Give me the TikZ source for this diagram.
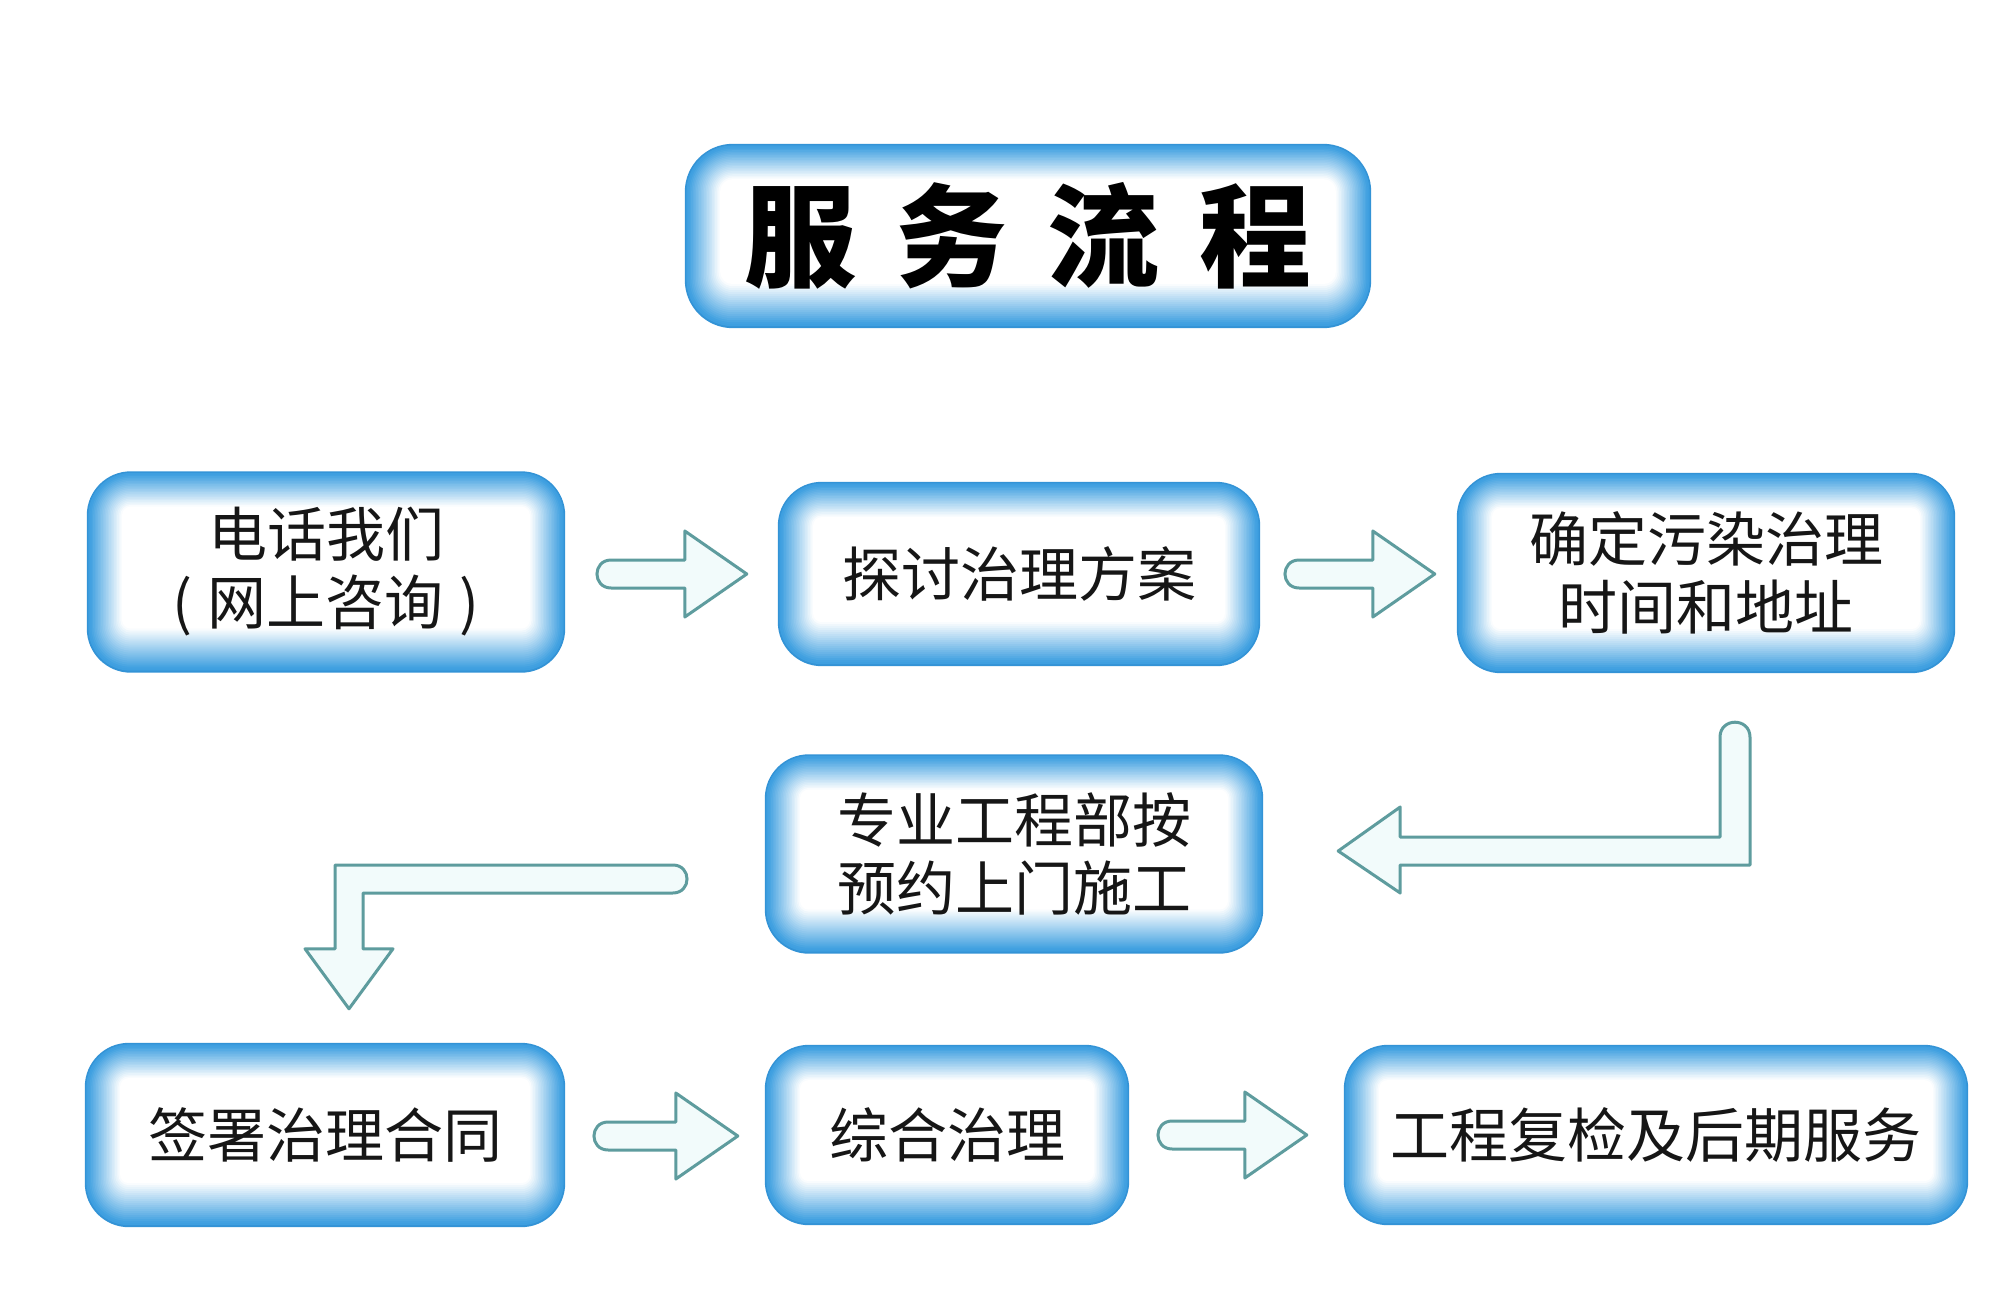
\documentclass[tikz,border=0pt]{standalone}
\usepackage{fontspec}
\newfontfamily\cjk{Noto Sans CJK SC}
\usetikzlibrary{calc,backgrounds}
\definecolor{boxblue}{HTML}{3E9FE0}
\definecolor{boxdark}{HTML}{3393D6}
\definecolor{arrline}{HTML}{5E9C9E}
\definecolor{arrfill}{HTML}{F2FBFB}
\definecolor{txtcol}{HTML}{161616}

\tikzset{
  stepbox/.style={inner sep=0pt, align=center, text=txtcol,
    font=\cjk\fontsize{59}{68}\selectfont},
  titlebox/.style={inner sep=0pt, align=center, text=black,
    font=\cjk\bfseries\fontsize{112}{112}\selectfont},
  blockarrow/.style={draw=arrline, fill=arrfill, line width=3pt, line join=round},
}

% glowing rounded frame behind node #1, corner radius #2
\newcommand{\glowframe}[2]{%
  \fill[boxdark, rounded corners=#2 pt] (#1.north west) rectangle (#1.south east);
  \foreach \i in {1,...,24}{%
    \pgfmathtruncatemacro\p{max(0,min(100,108-5*\i))}%
    \pgfmathsetmacro\r{max(4,#2-1.6*\i)}%
    \fill[boxblue!\p!white, rounded corners=\r pt]
      ($(#1.north west)+(1.6*\i,1.6*\i)$) rectangle ($(#1.south east)+(-1.6*\i,-1.6*\i-0.4*\i)$);
  }%
}

% straight right-pointing block arrow: #1 tail centre, #2 tip
\newcommand{\rightblock}[2]{%
  \draw[blockarrow] ($(#1)+(0,-14)$) -- ($(#2)+(-62,-14)$) -- ($(#2)+(-62,-43)$)
    -- (#2) -- ($(#2)+(-62,43)$) -- ($(#2)+(-62,14)$) -- ($(#1)+(0,14)$)
    .. controls ($(#1)+(-19,14)$) and ($(#1)+(-19,-14)$) .. ($(#1)+(0,-14)$) -- cycle;%
}

\begin{document}
\begin{tikzpicture}[x=1pt,y=-1pt]
\useasboundingbox (0,0) rectangle (2000,1308);

% nodes
\node[titlebox, minimum width=686pt, minimum height=184pt] (title) at (1028,236)
  {服\hspace{40pt}务\hspace{40pt}流\hspace{40pt}程};
\node[stepbox, minimum width=478pt, minimum height=201pt] (b1) at (326,572) {电话我们\\(\hspace{16pt}网上咨询\hspace{16pt})};
\node[stepbox, minimum width=482pt, minimum height=184pt] (b2) at (1019,574) {探讨治理方案};
\node[stepbox, minimum width=498pt, minimum height=200pt] (b3) at (1706,573) {确定污染治理\\时间和地址};
\node[stepbox, minimum width=498pt, minimum height=199pt] (b4) at (1014,854) {专业工程部按\\预约上门施工};
\node[stepbox, minimum width=480pt, minimum height=184pt] (b5) at (325,1135) {签署治理合同};
\node[stepbox, minimum width=364pt, minimum height=180pt] (b6) at (947,1135) {综合治理};
\node[stepbox, minimum width=624pt, minimum height=180pt] (b7) at (1656,1135) {工程复检及后期服务};

\begin{pgfonlayer}{background}
  \fill[white] (0,0) rectangle (2000,1308);
  \glowframe{title}{48}
  \glowframe{b1}{44}
  \glowframe{b2}{44}
  \glowframe{b3}{44}
  \glowframe{b4}{44}
  \glowframe{b5}{44}
  \glowframe{b6}{44}
  \glowframe{b7}{44}
\end{pgfonlayer}

% straight arrows
\coordinate (t1) at ($(b1.east)+(46,2)$);
\coordinate (h1) at ($(b2.west)+(-31,0)$);
\rightblock{t1}{h1}
\coordinate (t2) at ($(b2.east)+(39,0)$);
\coordinate (h2) at ($(b3.west)+(-22,1)$);
\rightblock{t2}{h2}
\coordinate (t5) at ($(b5.east)+(43,1)$);
\coordinate (h5) at ($(b6.west)+(-27,1)$);
\rightblock{t5}{h5}
\coordinate (t6) at ($(b6.east)+(43,0)$);
\coordinate (h6) at ($(b7.west)+(-37,0)$);
\rightblock{t6}{h6}

% bent arrow from b3 down and left to b4
\coordinate (t3) at ($(b3.south)+(29,64)$);
\coordinate (h3) at ($(b4.east)+(75,-3)$);
\draw[blockarrow] ($(t3)+(-15,0)$)
  .. controls ($(t3)+(-15,-20)$) and ($(t3)+(15,-20)$) .. ($(t3)+(15,0)$)
  |- ($(h3)+(62,14)$) -- ($(h3)+(62,42)$) -- (h3) -- ($(h3)+(62,-44)$)
  -- ($(h3)+(62,-14)$) -| ($(t3)+(-15,0)$) -- cycle;

% bent arrow from b4 left and down to b5
\coordinate (t4) at ($(b4.west)+(-92,25)$);
\coordinate (h4) at ($(b5.north)+(24,-34)$);
\draw[blockarrow] ($(t4)+(0,-14)$) -| ($(h4)+(-14,-60)$) -- ($(h4)+(-44,-60)$)
  -- (h4) -- ($(h4)+(44,-60)$) -- ($(h4)+(14,-60)$) |- ($(t4)+(0,14)$)
  .. controls ($(t4)+(19,14)$) and ($(t4)+(19,-14)$) .. ($(t4)+(0,-14)$) -- cycle;
\end{tikzpicture}
\end{document}
